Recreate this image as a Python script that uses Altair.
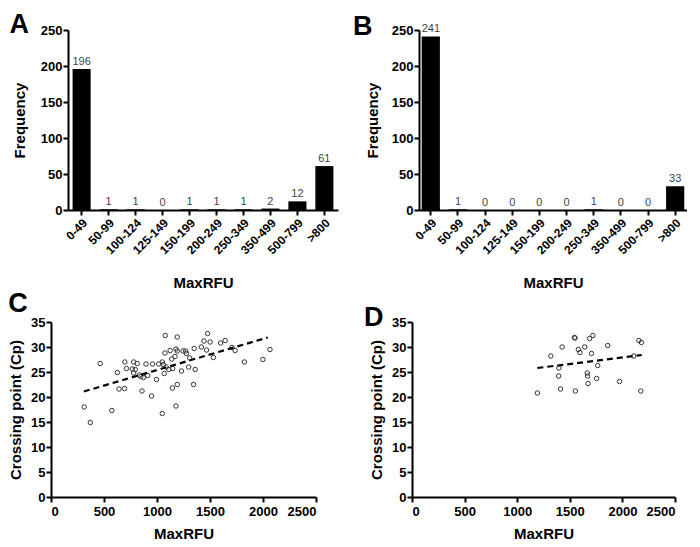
import altair as alt
import pandas as pd

FONT = "Liberation Sans"

categories = ["0-49", "50-99", "100-124", "125-149", "150-199", "200-249",
              "250-349", "350-499", "500-799", ">800"]
freq_a = [196, 1, 1, 0, 1, 1, 1, 2, 12, 61]
freq_b = [241, 1, 0, 0, 0, 0, 1, 0, 0, 33]

c_x = [313, 371, 464, 574, 626, 642, 694, 697, 712, 780, 813, 767, 795, 780, 835,
       847, 871, 912, 859, 896, 949, 958, 995, 1016, 1050, 1050, 1059, 1068, 1078, 1075,
       1087, 1111, 1124, 1145, 1148, 1139, 1179, 1191, 1179, 1191, 1191, 1170, 1231, 1246, 1271,
       1277, 1299, 1308, 1345, 1351, 1360, 1418, 1443, 1477, 1467, 1501, 1532, 1600, 1643, 1707,
       1737, 1824, 1999, 2066]
c_y = [18.0, 14.9, 26.7, 17.3, 24.9, 21.6, 21.7, 27.0, 25.7, 27.0, 26.7, 25.6, 25.5, 24.8, 24.4,
       24.1, 23.9, 24.3, 21.2, 26.6, 20.2, 26.6, 23.5, 26.6, 16.7, 27.0, 26.5, 24.7, 32.3, 28.8,
       26.0, 25.5, 29.3, 21.8, 25.7, 27.6, 18.2, 32.0, 29.6, 29.2, 22.5, 28.1, 25.2, 29.2, 29.2,
       28.7, 26.0, 27.8, 22.5, 29.7, 25.5, 30.0, 31.2, 32.7, 29.4, 31.0, 27.9, 30.8, 31.3, 29.9,
       29.3, 27.0, 27.5, 29.5]
d_x = [1192, 1320, 1397, 1394, 1412, 1427, 1544, 1550, 1553, 1581, 1596, 1642, 1666, 1669,
       1673, 1688, 1719, 1706, 1755, 1765, 1860, 1973, 2108, 2157, 2181, 2175]
d_y = [20.8, 28.2, 25.8, 24.2, 21.6, 30.0, 31.9, 31.8, 21.2, 29.5, 28.9, 30.0, 24.8, 24.2,
       22.7, 31.7, 32.3, 28.7, 23.7, 26.3, 30.3, 23.1, 28.2, 31.3, 30.9, 21.2]
trend_c_x = [310, 2045]
trend_c_y = [21.1, 31.9]
trend_d_x = [1192, 2184]
trend_d_y = [25.8, 28.4]

freq_ticks = [0, 50, 100, 150, 200, 250]
cp_ticks = [0, 5, 10, 15, 20, 25, 30, 35]
rfu_ticks = [0, 500, 1000, 1500, 2000, 2500]


def letter_title(letter, dx, offset):
    return alt.TitleParams(letter, anchor="start", frame="group", dx=dx, offset=offset,
                           fontSize=27, fontWeight="bold", font=FONT, color="black",
                           baseline="alphabetic")


def bar_panel(letter, freq, width, pad_outer, title_pad, dx, offset):
    df = pd.DataFrame({"cat": categories, "freq": freq})
    x = alt.X("cat:N", sort=categories,
              scale=alt.Scale(paddingInner=0.33, paddingOuter=pad_outer),
              axis=alt.Axis(title="MaxRFU", labelAngle=-45, labelAlign="right",
                            labelBaseline="top", labelPadding=2, titlePadding=20,
                            labelFontSize=12, labelOverlap=False))
    y = alt.Y("freq:Q", scale=alt.Scale(domain=[0, 250], nice=False),
              axis=alt.Axis(title="Frequency", values=freq_ticks, titlePadding=title_pad,
                            labelPadding=1, labelOverlap=False, format="d"))
    bars = alt.Chart(df).mark_bar(color="black").encode(x=x, y=y)
    text = alt.Chart(df).mark_text(baseline="bottom", dy=-2, fontSize=11, color="#444",
                                   font=FONT).encode(x=x, y=y, text="freq:Q")
    return alt.layer(bars, text).properties(width=width, height=180,
                                            title=letter_title(letter, dx, offset))


def scatter_panel(letter, xs, ys, tx, ty, width, dx, offset):
    pts_df = pd.DataFrame({"x": xs, "y": ys})
    tr_df = pd.DataFrame({"x": tx, "y": ty})
    x = alt.X("x:Q", scale=alt.Scale(domain=[0, 2500], nice=False),
              axis=alt.Axis(title="MaxRFU", values=rfu_ticks, labelPadding=3, titlePadding=8,
                            labelOverlap=False, format="d"))
    y = alt.Y("y:Q", scale=alt.Scale(domain=[0, 35], nice=False),
              axis=alt.Axis(title="Crossing point (Cp)", values=cp_ticks, labelPadding=1,
                            titlePadding=7, labelOverlap=False, format="d"))
    pts = alt.Chart(pts_df).mark_point(shape="circle", filled=False, size=20, strokeWidth=1,
                                       color="#333", opacity=1).encode(x=x, y=y)
    line = alt.Chart(tr_df).mark_line(color="black", strokeWidth=2.2,
                                      strokeDash=[6, 4]).encode(x=x, y=y)
    return alt.layer(pts, line).properties(width=width, height=175,
                                           title=letter_title(letter, dx, offset))


panel_a = bar_panel("A", freq_a, 270, 0.17, 13, -58.5, -36)
panel_b = bar_panel("B", freq_b, 268, 0.1, 11, -66, -39)
panel_c = scatter_panel("C", c_x, c_y, trend_c_x, trend_c_y, 265, -42.8, -22.5)
panel_d = scatter_panel("D", d_x, d_y, trend_d_x, trend_d_y, 263, -48, -37.4)

spacer = alt.Chart(pd.DataFrame({"a": [0]})).mark_point(opacity=0).encode(
    x=alt.X("a:Q", axis=None), y=alt.Y("a:Q", axis=None)).properties(width=17, height=180)

row1 = alt.hconcat(spacer, alt.hconcat(panel_a, panel_b, spacing=81, bounds="flush"),
                   spacing=0, bounds="flush")
row2 = alt.hconcat(panel_c, panel_d, spacing=96, bounds="flush")

chart = alt.vconcat(row1, row2, spacing=292, bounds="flush").properties(
    padding={"top": 3, "left": 0, "right": 0, "bottom": 0}, background="white"
).configure_view(strokeWidth=0).configure_axis(
    domainColor="black", domainWidth=2, tickColor="black", tickWidth=2, tickSize=5,
    labelFont=FONT, labelFontWeight="bold", labelFontSize=13, labelColor="black",
    titleFont=FONT, titleFontWeight="bold", titleFontSize=15, titleColor="black",
    grid=False
)

chart.save("out.html", embed_options={"renderer": "svg", "actions": False})
